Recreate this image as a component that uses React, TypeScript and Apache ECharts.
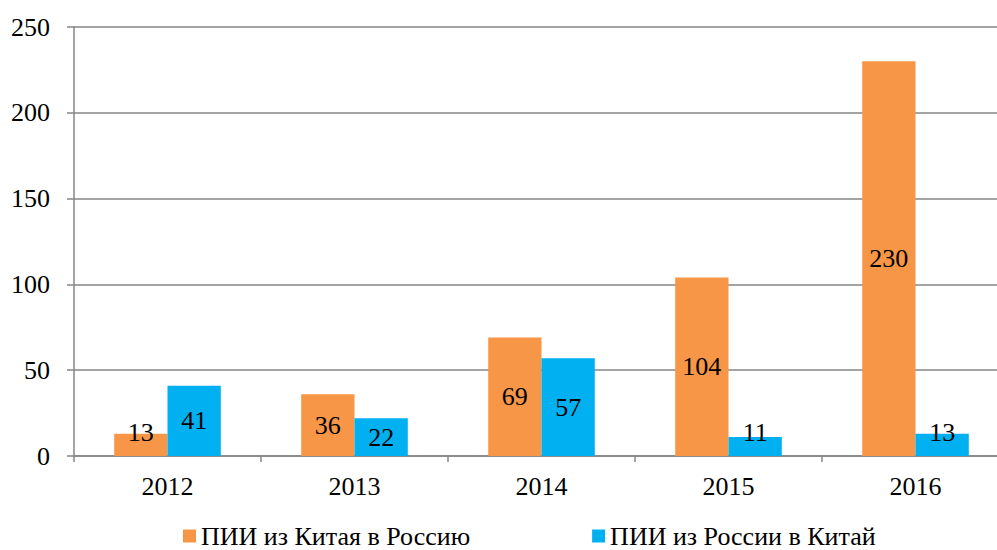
import React, { useEffect, useRef } from "react";
import * as echarts from "echarts";

const categories = ["2012", "2013", "2014", "2015", "2016"];
const chinaToRussia = [13, 36, 69, 104, 230];
const russiaToChina = [41, 22, 57, 11, 13];
const seriesNames = ["ПИИ из Китая в Россию", "ПИИ из России в Китай"];

const FONT = "Liberation Serif";
const FS = 26;

function toData(values: number[]) {
  return values.map((v) =>
    v < 20
      ? { value: v, label: { position: "insideBottom", distance: 11 } }
      : { value: v }
  );
}

export default function App() {
  const ref = useRef<HTMLDivElement>(null);
  useEffect(() => {
    const chart = echarts.init(ref.current!, undefined, { renderer: "svg" });
    const label = {
      show: true,
      position: "inside" as const,
      color: "#000",
      fontFamily: FONT,
      fontSize: FS,
    };
    chart.setOption({
      animation: false,
      backgroundColor: "#fff",
      textStyle: { fontFamily: FONT },
      grid: { left: 74, right: 1, top: 27, bottom: 94, containLabel: false },
      legend: {
        top: 516,
        left: 178,
        itemWidth: 13,
        itemHeight: 13,
        itemGap: 122,
        icon: "rect",
        textStyle: { fontFamily: FONT, fontSize: FS, color: "#000", lineHeight: 30 },
        data: seriesNames,
      },
      xAxis: {
        type: "category",
        data: categories,
        axisLine: { lineStyle: { color: "#868686", width: 1.5 } },
        axisTick: { show: true, alignWithLabel: false, length: 6, lineStyle: { color: "#868686", width: 1.5 } },
        axisLabel: { fontFamily: FONT, fontSize: FS, color: "#000", margin: 17 },
      },
      yAxis: {
        type: "value",
        min: 0,
        max: 250,
        interval: 50,
        axisLine: { show: true, lineStyle: { color: "#868686", width: 1.5 } },
        axisTick: { show: true, length: 7, lineStyle: { color: "#868686", width: 1.5 } },
        splitLine: { show: true, lineStyle: { color: "#868686", width: 1.5 } },
        axisLabel: { fontFamily: FONT, fontSize: FS, color: "#000", margin: 24 },
      },
      series: [
        {
          name: seriesNames[0],
          type: "bar",
          data: toData(chinaToRussia),
          itemStyle: { color: "#F79646" },
          barGap: "0%",
          barCategoryGap: "43%",
          label,
        },
        {
          name: seriesNames[1],
          type: "bar",
          data: toData(russiaToChina),
          itemStyle: { color: "#00B0F0" },
          barGap: "0%",
          barCategoryGap: "43%",
          label,
        },
      ],
    });
    return () => chart.dispose();
  }, []);
  return (
    <div style={{ width: 997, height: 550, position: "absolute", left: 0, top: 0, overflow: "hidden" }}>
      <div ref={ref} style={{ width: 1010, height: 550 }} />
    </div>
  );
}
